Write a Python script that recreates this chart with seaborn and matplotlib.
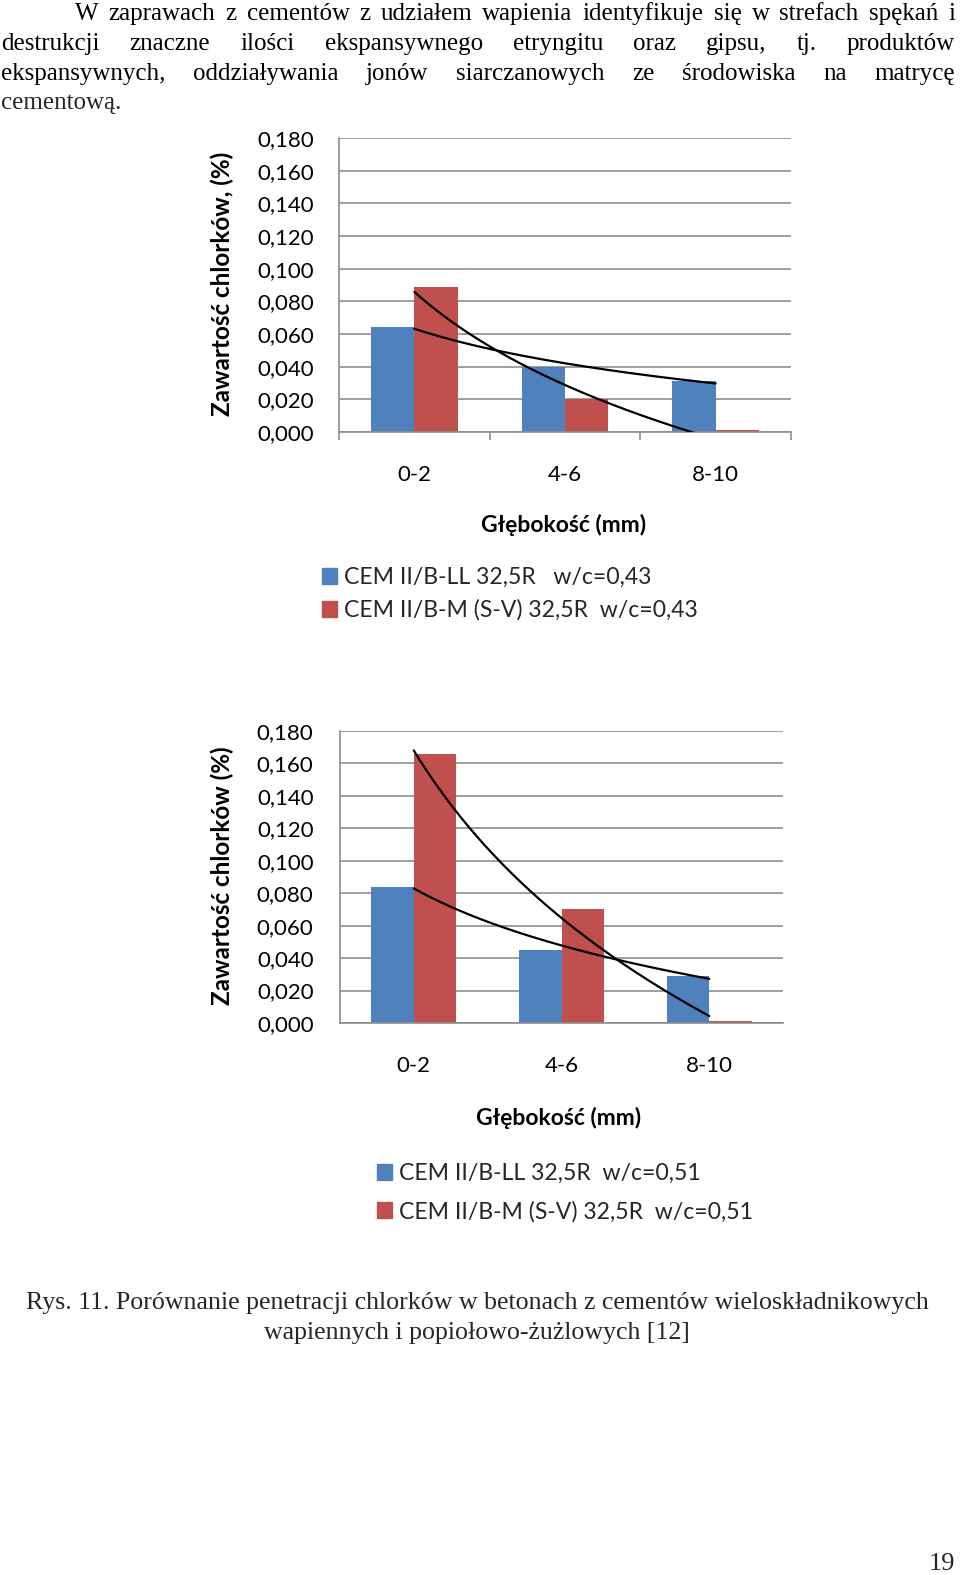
import numpy as np
import pandas as pd
import matplotlib
matplotlib.use("Agg")
import matplotlib.pyplot as plt
import seaborn as sns
from matplotlib.patches import Patch
from matplotlib.ticker import FixedLocator

# ---------------- data ----------------
depths = ["0-2", "4-6", "8-10"]
ll_043 = [0.064, 0.040, 0.031]
m_043 = [0.089, 0.020, 0.001]
ll_051 = [0.084, 0.045, 0.029]
m_051 = [0.166, 0.070, 0.001]
series_043 = ["CEM II/B-LL 32,5R   w/c=0,43", "CEM II/B-M (S-V) 32,5R  w/c=0,43"]
series_051 = ["CEM II/B-LL 32,5R  w/c=0,51", "CEM II/B-M (S-V) 32,5R  w/c=0,51"]
y_ticks = [0.0, 0.02, 0.04, 0.06, 0.08, 0.10, 0.12, 0.14, 0.16, 0.18]
y_tick_labels = ["0,000", "0,020", "0,040", "0,060", "0,080",
                 "0,100", "0,120", "0,140", "0,160", "0,180"]
ylabel_1 = "Zawartość chlorków, (%)"
ylabel_2 = "Zawartość chlorków (%)"
xlabel = "Głębokość (mm)"

body_lines = [
    "W zaprawach z cementów z udziałem wapienia identyfikuje się w strefach spękań i",
    "destrukcji znaczne ilości ekspansywnego etryngitu oraz gipsu, tj. produktów",
    "ekspansywnych, oddziaływania jonów siarczanowych ze środowiska na matrycę",
    "cementową.",
]
caption_lines = [
    "Rys. 11. Porównanie penetracji chlorków w betonach z cementów wieloskładnikowych",
    "wapiennych i popiołowo-żużlowych [12]",
]
page_number = "19"

BLUE = "#4F81BD"
RED = "#C0504D"
GRID = "#8e8e8e"

sns.set_theme(style="white")
plt.rcParams["font.family"] = ["Lato", "DejaVu Sans"]

W, H = 960, 1575
fig = plt.figure(figsize=(W / 100, H / 100), dpi=100)
fig.patch.set_facecolor("white")


def fx(px):
    return px / W


def fy(px):
    return 1 - px / H


def make_chart(rect_px, blue_vals, red_vals, names, ylabel, style):
    x0, y0, x1, y1 = rect_px
    ax = fig.add_axes([fx(x0), fy(y1), (x1 - x0) / W, (y1 - y0) / H])
    df = pd.DataFrame({
        "depth": depths * 2,
        "value": list(blue_vals) + list(red_vals),
        "series": [names[0]] * 3 + [names[1]] * 3,
    })
    sns.barplot(data=df, x="depth", y="value", hue="series", order=depths,
                hue_order=names, palette=[BLUE, RED], width=0.575,
                saturation=1, linewidth=0, legend=False, ax=ax, errorbar=None)
    # logarithmic trend lines (as Excel does), fitted on the data
    xs = np.linspace(1, 3, 300)
    for vals in (blue_vals, red_vals):
        b, a = np.polyfit(np.log([1, 2, 3]), vals, 1)
        ax.plot(xs - 1, a + b * np.log(xs), color="black", lw=1.6, zorder=5)
    ax.set_xlim(-0.5, 2.5)
    ax.set_ylim(0, 0.18)
    ax.yaxis.set_major_locator(FixedLocator(y_ticks))
    ax.set_yticklabels(y_tick_labels, fontsize=16, color="black")
    ax.set_xticks(range(3))
    ax.set_xticklabels(depths, fontsize=16, color="black")
    ax.yaxis.grid(True, color=GRID, lw=1.2)
    ax.set_axisbelow(True)
    for s in ("top", "right"):
        ax.spines[s].set_visible(False)
    for s in ("left", "bottom"):
        ax.spines[s].set_color(GRID)
        ax.spines[s].set_linewidth(1.2)
    if style == 1:
        ax.tick_params(axis="y", length=6, width=1.2, color=GRID, pad=12)
        ax.xaxis.set_minor_locator(FixedLocator([-0.5, 0.5, 1.5, 2.5]))
        ax.tick_params(axis="x", which="minor", length=6, width=1.2, color=GRID,
                       direction="out", bottom=True)
        ax.tick_params(axis="x", which="major", length=0, pad=23.5)
    else:
        ax.tick_params(axis="y", length=0, pad=19)
        ax.tick_params(axis="x", length=0, pad=24)
    ax.set_xlabel(xlabel, fontsize=16.5, fontweight="bold", color="black")
    ax.set_ylabel(ylabel, fontsize=17.5, fontweight="bold", color="black")
    ax.xaxis.label.set_va("center")
    ax.yaxis.label.set_va("center")
    return ax


ax1 = make_chart((339, 138, 791, 432), ll_043, m_043, series_043, ylabel_1, 1)
ax1.xaxis.set_label_coords(0.496, (432 - 525) / 294)
ax1.yaxis.set_label_coords((222 - 339) / 452, (432 - 284) / 294)
ax1.legend(handles=[Patch(color=BLUE, label=series_043[0]),
                    Patch(color=RED, label=series_043[1])],
           loc="upper left", bbox_to_anchor=(fx(322), fy(567)),
           bbox_transform=fig.transFigure, frameon=False, fontsize=16.6,
           handlelength=0.65, handleheight=0.65, handletextpad=0.3,
           borderpad=0, borderaxespad=0, labelspacing=0.5)

ax2 = make_chart((340, 731, 783, 1023), ll_051, m_051, series_051, ylabel_2, 2)
ax2.xaxis.set_label_coords((559 - 340) / 443, (1023 - 1118) / 292)
ax2.yaxis.set_label_coords((222 - 340) / 443, (1023 - 876) / 292)
ax2.legend(handles=[Patch(color=BLUE, label=series_051[0]),
                    Patch(color=RED, label=series_051[1])],
           loc="upper left", bbox_to_anchor=(fx(377), fy(1163)),
           bbox_transform=fig.transFigure, frameon=False, fontsize=16.6,
           handlelength=0.65, handleheight=0.65, handletextpad=0.3,
           borderpad=0, borderaxespad=0, labelspacing=0.72)

# ---------------- page text ----------------
renderer = fig.canvas.get_renderer()
SERIF = ["Liberation Serif", "DejaVu Serif"]


def measure(s, fs):
    t = fig.text(0, 0, s, fontsize=fs, family=SERIF)
    w = t.get_window_extent(renderer).width
    t.remove()
    return w


fs_body = 18.0
nat = measure(body_lines[0], fs_body)
if nat > 870:
    fs_body = fs_body * 870 / nat


def justify(line, base_px, x0, x1, fs):
    words = line.split(" ")
    texts = [fig.text(0, fy(base_px), w, fontsize=fs, family=SERIF,
                      va="baseline", ha="left", color="black") for w in words]
    widths = [t.get_window_extent(renderer).width for t in texts]
    gap = (x1 - x0 - sum(widths)) / max(len(words) - 1, 1)
    x = x0
    for t, w in zip(texts, widths):
        t.set_x(fx(x))
        x += w + gap


justify(body_lines[0], 20, 75, 955, fs_body)
justify(body_lines[1], 50, 1, 955, fs_body)
justify(body_lines[2], 80, 1, 955, fs_body)
fig.text(fx(1), fy(109), body_lines[3], fontsize=fs_body, family=SERIF,
         va="baseline", ha="left")

fs_cap = 18.0
capw = measure(caption_lines[0], fs_cap)
fs_cap = min(19.0, fs_cap * 905 / capw)
fig.text(fx(477), fy(1309), caption_lines[0], fontsize=fs_cap, family=SERIF,
         va="baseline", ha="center")
fig.text(fx(477), fy(1339), caption_lines[1], fontsize=fs_cap, family=SERIF,
         va="baseline", ha="center")
fig.text(fx(955), fy(1570), page_number, fontsize=19, family=SERIF,
         va="baseline", ha="right")

fig.savefig("out.png", dpi=100, facecolor="white")
